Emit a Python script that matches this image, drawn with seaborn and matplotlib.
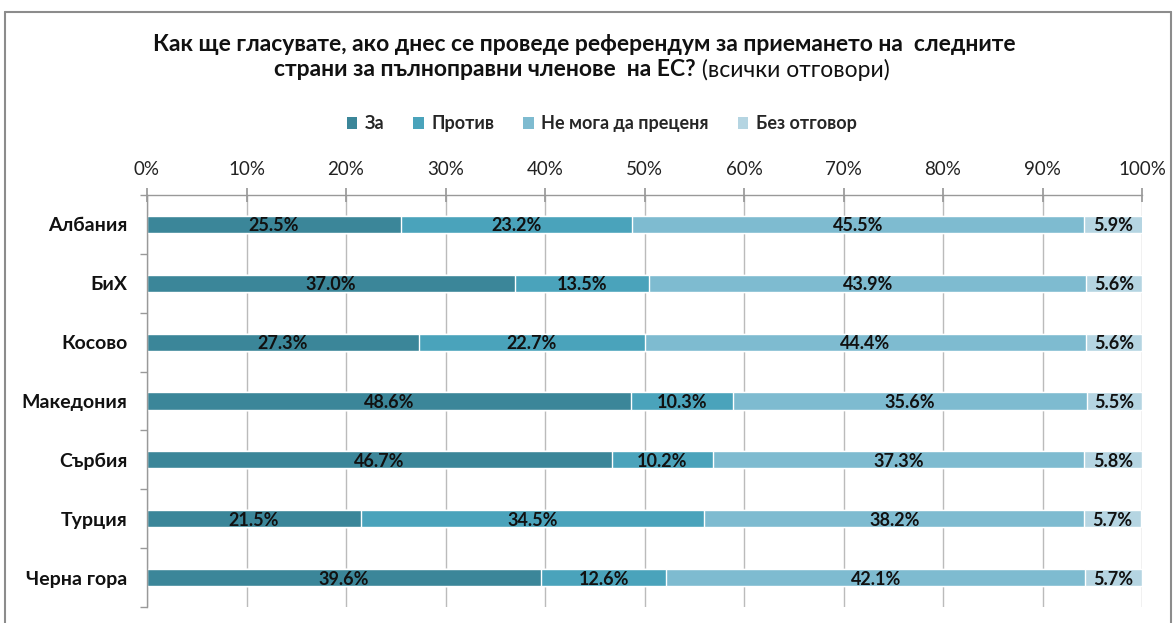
import numpy as np
import pandas as pd
import matplotlib
matplotlib.use('Agg')
import matplotlib.pyplot as plt
from matplotlib.patches import Patch
from matplotlib.lines import Line2D
import seaborn as sns

countries = ['Албания', 'БиХ', 'Косово', 'Македония', 'Сърбия', 'Турция', 'Черна гора']
za = [25.5, 37.0, 27.3, 48.6, 46.7, 21.5, 39.6]
protiv = [23.2, 13.5, 22.7, 10.3, 10.2, 34.5, 12.6]
ne_moga = [45.5, 43.9, 44.4, 35.6, 37.3, 38.2, 42.1]
bez = [5.9, 5.6, 5.6, 5.5, 5.8, 5.7, 5.7]

series = ['За', 'Против', 'Не мога да преценя', 'Без отговор']
colors = ['#3B8699', '#4AA3BB', '#7EBBD0', '#B5D5E2']

sns.set_theme(style='white')
plt.rcParams['font.family'] = ['Lato', 'DejaVu Sans']

# кумулативни стойности за наслагване
vals = [za, protiv, ne_moga, bez]
rows = []
cum = np.zeros(len(countries))
for name, v in zip(series, vals):
    start = cum.copy()
    cum = cum + np.array(v)
    for i, c in enumerate(countries):
        rows.append({'country': c, 'series': name, 'value': v[i],
                     'start': start[i], 'cum': cum[i]})
df = pd.DataFrame(rows)

fig = plt.figure(figsize=(11.75, 6.23), dpi=100)
ax = fig.add_axes([147 / 1175, 1 - 607 / 623, (1142 - 147) / 1175, (607 - 195) / 623])

sns.barplot(data=df, y='country', x='cum', hue='series',
            hue_order=series[::-1], palette=dict(zip(series, colors)),
            order=countries, dodge=False, width=0.29, orient='y',
            saturation=1, legend=False, ax=ax)

for _, r in df.iterrows():
    ax.text(r['start'] + r['value'] / 2, countries.index(r['country']),
            f"{r['value']:.1f}%", ha='center', va='center_baseline',
            fontsize=13, fontweight='bold', color='#111111')

ax.set_xlim(0, 100)
ax.set_ylim(6.5, -0.5)
ax.set_xticks(np.arange(0, 101, 10))
ax.set_xticklabels([f'{t}%' for t in range(0, 101, 10)])
ax.xaxis.tick_top()
ax.tick_params(axis='x', which='major', top=True, direction='inout', length=10,
               color='#999999', labelsize=13.5, pad=7, labelcolor='#222222')
ax.set_yticks(range(len(countries)))
ax.set_yticklabels(countries, fontsize=14, fontweight='bold', color='#111111')
ax.set_yticks(np.arange(-0.5, 7, 1), minor=True)
ax.tick_params(axis='y', which='major', length=0, pad=14)
ax.tick_params(axis='y', which='minor', left=True, length=5, color='#999999')
ax.grid(True, axis='x', color='#BBBBBB', linewidth=1)
ax.set_axisbelow(True)
ax.set_xlabel('')
ax.set_ylabel('')
for s in ['right', 'bottom']:
    ax.spines[s].set_visible(False)
for s in ['top', 'left']:
    ax.spines[s].set_color('#999999')
    ax.spines[s].set_linewidth(1)

# легенда
handles = [Patch(facecolor=c, edgecolor='none') for c in colors]
fig.legend(handles, series, loc='center', bbox_to_anchor=(0.512, 0.801), ncol=4,
           frameon=False, handlelength=0.6, handleheight=0.6,
           handletextpad=0.4, columnspacing=1.6,
           prop={'weight': 'bold', 'size': 13})

# заглавие
fig.text(0.497, 0.929, 'Как ще гласувате, ако днес се проведе референдум за приемането на  следните',
         ha='center', va='center', fontsize=16.5, fontweight='bold', color='#111111')
t_bold = fig.text(0, 0.888, 'страни за пълноправни членове  на ЕС?', ha='left', va='center',
                  fontsize=16.5, fontweight='bold', color='#111111')
t_norm = fig.text(0, 0.888, ' (всички отговори)', ha='left', va='center',
                  fontsize=16.5, color='#111111')
fig.canvas.draw()
r = fig.canvas.get_renderer()
w1 = t_bold.get_window_extent(r).width
w2 = t_norm.get_window_extent(r).width
W = fig.bbox.width
x0 = 0.495 * W - (w1 + w2) / 2
t_bold.set_x(x0 / W)
t_norm.set_x((x0 + w1) / W)

# рамка
for xs, ys in [([5, 5], [0, 611]), ([5, 1171], [611, 611]), ([1171, 1171], [0, 611])]:
    fig.add_artist(Line2D([x / 1175 for x in xs], [y / 623 for y in ys],
                          color='#8C8C8C', linewidth=1.5))

fig.savefig('out.png', dpi=100)
